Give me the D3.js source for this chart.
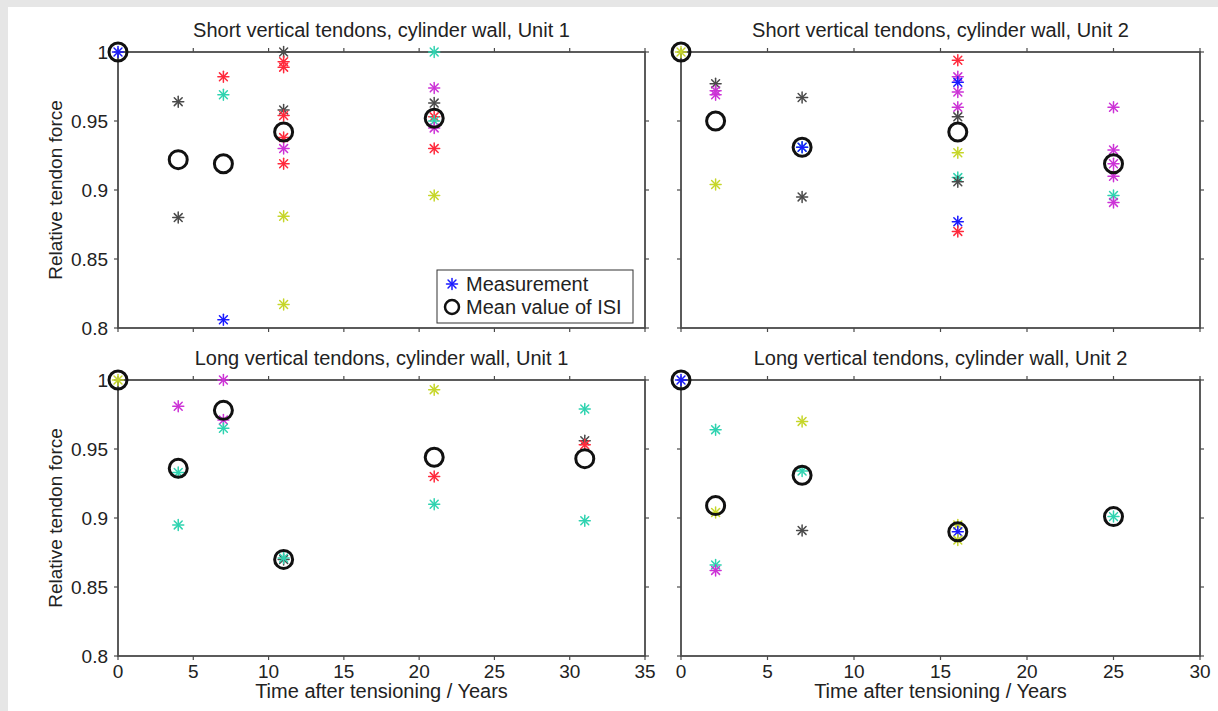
<!DOCTYPE html>
<html>
<head>
<meta charset="utf-8">
<script src="https://cdn.jsdelivr.net/npm/d3@7"></script>
<style>
  html, body { margin: 0; padding: 0; background: #e6e6e6; }
  svg { display: block; }
  text { font-family: "Liberation Sans", Arial, sans-serif; fill: #222; }
</style>
</head>
<body>
<div id="chart"></div>
<script>
// tendon colours (measurement stars)
const colors = {
    b: "#1a1aff", r: "#ff2a3c", c: "#2fd3b0", m: "#cc33d6", y: "#c6d62a", k: "#4a4a4a"
};

const yTicks = [0.8, 0.85, 0.9, 0.95, 1];
const xTicksLeft = [0, 5, 10, 15, 20, 25, 30, 35];
const xTicksRight = [0, 5, 10, 15, 20, 25, 30];

// measurements: [time, relative force, colour]
const shortUnit1 = [
    [0, 1.0, "b"],
    [4, 0.964, "k"], [4, 0.880, "k"],
    [7, 0.982, "r"], [7, 0.969, "c"], [7, 0.806, "b"],
    [11, 1.0, "k"], [11, 0.993, "r"], [11, 0.989, "r"], [11, 0.958, "k"], [11, 0.954, "r"],
    [11, 0.938, "r"], [11, 0.930, "m"], [11, 0.919, "r"], [11, 0.881, "y"], [11, 0.817, "y"],
    [21, 1.0, "c"], [21, 0.974, "m"], [21, 0.963, "k"], [21, 0.953, "r"], [21, 0.950, "c"],
    [21, 0.945, "m"], [21, 0.930, "r"], [21, 0.896, "y"]
];
const shortUnit2 = [
    [0, 1.0, "y"],
    [2, 0.977, "k"], [2, 0.972, "m"], [2, 0.969, "m"], [2, 0.904, "y"],
    [7, 0.967, "k"], [7, 0.931, "c"], [7, 0.931, "b"], [7, 0.895, "k"],
    [16, 0.994, "r"], [16, 0.982, "m"], [16, 0.978, "b"], [16, 0.971, "m"], [16, 0.960, "m"],
    [16, 0.953, "k"], [16, 0.927, "y"], [16, 0.909, "c"], [16, 0.906, "k"], [16, 0.877, "b"],
    [16, 0.870, "r"],
    [25, 0.960, "m"], [25, 0.929, "m"], [25, 0.919, "m"], [25, 0.910, "m"], [25, 0.896, "c"],
    [25, 0.891, "m"]
];
const longUnit1 = [
    [0, 1.0, "y"],
    [4, 0.981, "m"], [4, 0.933, "c"], [4, 0.895, "c"],
    [7, 1.0, "m"], [7, 0.971, "m"], [7, 0.965, "c"],
    [11, 0.870, "k"], [11, 0.871, "c"],
    [21, 0.993, "y"], [21, 0.930, "r"], [21, 0.910, "c"],
    [31, 0.979, "c"], [31, 0.956, "k"], [31, 0.953, "r"], [31, 0.898, "c"]
];
const longUnit2 = [
    [0, 1.0, "b"],
    [2, 0.964, "c"], [2, 0.904, "y"], [2, 0.866, "c"], [2, 0.862, "m"],
    [7, 0.970, "y"], [7, 0.934, "c"], [7, 0.891, "k"],
    [16, 0.895, "y"], [16, 0.890, "b"], [16, 0.884, "y"],
    [25, 0.901, "c"]
];

// mean value of ISI: [time, relative force]
const shortUnit1Mean = [[0, 1.0], [4, 0.922], [7, 0.919], [11, 0.942], [21, 0.952]];
const shortUnit2Mean = [[0, 1.0], [2, 0.950], [7, 0.931], [16, 0.942], [25, 0.919]];
const longUnit1Mean = [[0, 1.0], [4, 0.936], [7, 0.978], [11, 0.870], [21, 0.944], [31, 0.943]];
const longUnit2Mean = [[0, 1.0], [2, 0.909], [7, 0.931], [16, 0.890], [25, 0.901]];

const panels = [
    { title: "Short vertical tendons, cylinder wall, Unit 1", data: shortUnit1, mean: shortUnit1Mean,
      x0: 118, x1: 645, y0: 52, y1: 328, xMax: 35, xTicks: xTicksLeft, yLabels: true, xLabels: false, legend: true },
    { title: "Short vertical tendons, cylinder wall, Unit 2", data: shortUnit2, mean: shortUnit2Mean,
      x0: 681, x1: 1200, y0: 52, y1: 328, xMax: 30, xTicks: xTicksRight, yLabels: false, xLabels: false },
    { title: "Long vertical tendons, cylinder wall, Unit 1", data: longUnit1, mean: longUnit1Mean,
      x0: 118, x1: 645, y0: 380, y1: 656, xMax: 35, xTicks: xTicksLeft, yLabels: true, xLabels: true },
    { title: "Long vertical tendons, cylinder wall, Unit 2", data: longUnit2, mean: longUnit2Mean,
      x0: 681, x1: 1200, y0: 380, y1: 656, xMax: 30, xTicks: xTicksRight, yLabels: false, xLabels: true }
];

const W = 1218, H = 711;
const svg = d3.select("#chart").append("svg").attr("width", W).attr("height", H);

svg.append("rect").attr("x", 8).attr("y", 7).attr("width", W - 8).attr("height", H - 7).attr("fill", "#fff");

const axisColor = "#4a4a4a";
const fontSize = 19;
const labelSize = 20;

// asterisk marker
function star(g, cx, cy, color, r = 5.5) {
    const s = g.append("g").attr("transform", `translate(${cx},${cy})`)
        .attr("stroke", color).attr("stroke-width", 1.5).attr("stroke-linecap", "round");
    const d = r * 0.72;
    s.append("line").attr("x1", -r).attr("x2", r).attr("y1", 0).attr("y2", 0);
    s.append("line").attr("x1", 0).attr("x2", 0).attr("y1", -r).attr("y2", r);
    s.append("line").attr("x1", -d).attr("x2", d).attr("y1", -d).attr("y2", d);
    s.append("line").attr("x1", -d).attr("x2", d).attr("y1", d).attr("y2", -d);
}

panels.forEach(p => {
    const x = d3.scaleLinear().domain([0, p.xMax]).range([p.x0, p.x1]);
    const y = d3.scaleLinear().domain([0.8, 1]).range([p.y1, p.y0]);
    const g = svg.append("g");

    // ticks on all four sides, pointing out
    const tick = 4;
    p.xTicks.forEach(t => {
        g.append("line").attr("x1", x(t)).attr("x2", x(t)).attr("y1", p.y1).attr("y2", p.y1 + tick)
            .attr("stroke", axisColor).attr("stroke-width", 1.2);
        g.append("line").attr("x1", x(t)).attr("x2", x(t)).attr("y1", p.y0).attr("y2", p.y0 - tick)
            .attr("stroke", axisColor).attr("stroke-width", 1.2);
        if (p.xLabels) {
            g.append("text").attr("x", x(t)).attr("y", p.y1 + 22).attr("text-anchor", "middle")
                .attr("font-size", fontSize).text(t);
        }
    });
    yTicks.forEach(v => {
        g.append("line").attr("x1", p.x0).attr("x2", p.x0 - tick).attr("y1", y(v)).attr("y2", y(v))
            .attr("stroke", axisColor).attr("stroke-width", 1.2);
        g.append("line").attr("x1", p.x1).attr("x2", p.x1 + tick).attr("y1", y(v)).attr("y2", y(v))
            .attr("stroke", axisColor).attr("stroke-width", 1.2);
        if (p.yLabels) {
            g.append("text").attr("x", p.x0 - 10).attr("y", y(v) + 7).attr("text-anchor", "end")
                .attr("font-size", fontSize).text(v === 1 ? "1" : d3.format(".2~f")(v));
        }
    });

    g.append("rect").attr("x", p.x0).attr("y", p.y0).attr("width", p.x1 - p.x0).attr("height", p.y1 - p.y0)
        .attr("fill", "none").attr("stroke", axisColor).attr("stroke-width", 1.8);

    g.append("text").attr("x", (p.x0 + p.x1) / 2).attr("y", p.y0 - 15).attr("text-anchor", "middle")
        .attr("font-size", labelSize).text(p.title);

    if (p.yLabels) {
        g.append("text").attr("transform", `translate(62,${(p.y0 + p.y1) / 2}) rotate(-90)`)
            .attr("text-anchor", "middle").attr("font-size", fontSize).text("Relative tendon force");
    }
    if (p.xLabels) {
        g.append("text").attr("x", (p.x0 + p.x1) / 2).attr("y", p.y1 + 42).attr("text-anchor", "middle")
            .attr("font-size", labelSize).text("Time after tensioning / Years");
    }

    p.data.forEach(d => star(g, x(d[0]), y(d[1]), colors[d[2]]));

    g.selectAll("circle.mean").data(p.mean).enter().append("circle")
        .attr("class", "mean")
        .attr("cx", d => x(d[0])).attr("cy", d => y(d[1])).attr("r", 9)
        .attr("fill", "none").attr("stroke", "#111").attr("stroke-width", 3);

    if (p.legend) {
        const lg = g.append("g").attr("transform", "translate(437,270)");
        lg.append("rect").attr("width", 196).attr("height", 53).attr("fill", "#fff")
            .attr("stroke", "#333").attr("stroke-width", 1);
        star(lg, 15, 14, colors.b);
        lg.append("text").attr("x", 29).attr("y", 21).attr("font-size", labelSize).text("Measurement");
        lg.append("circle").attr("cx", 15).attr("cy", 37).attr("r", 7)
            .attr("fill", "none").attr("stroke", "#111").attr("stroke-width", 2.5);
        lg.append("text").attr("x", 29).attr("y", 44).attr("font-size", labelSize).text("Mean value of ISI");
    }
});
</script>
</body>
</html>
